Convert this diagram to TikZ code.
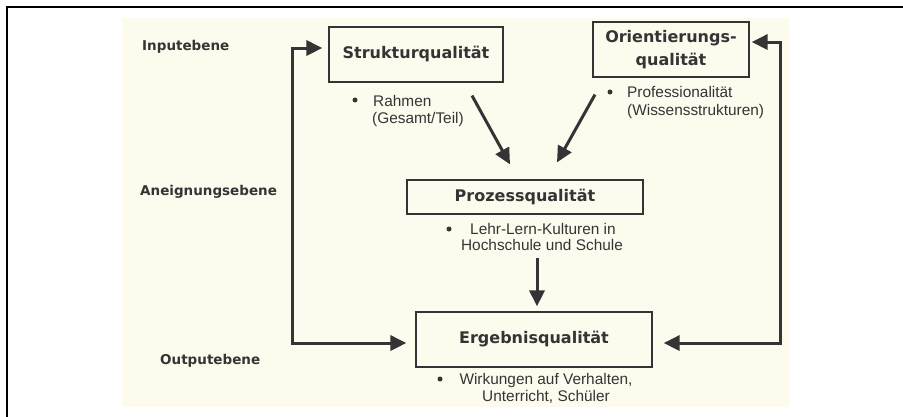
\documentclass[tikz,border=0pt]{standalone}
\usepackage{fontspec}
\setmainfont{Liberation Sans}
\newfontfamily\titlefont{DejaVu Sans}
\usetikzlibrary{arrows.meta,calc}
\definecolor{cream}{RGB}{253,251,238}
\definecolor{ink}{RGB}{52,52,52}
\begin{document}
\begin{tikzpicture}[x=1pt,y=-1pt,
  box/.style={draw=ink, line width=1.2pt, fill=cream, inner sep=0pt, align=center,
    font=\titlefont\bfseries\fontsize{16}{23}\selectfont, text=ink},
  lvl/.style={font=\titlefont\bfseries\fontsize{13.5}{16}\selectfont, text=ink, inner sep=0pt, anchor=base west},
  txt/.style={font=\fontsize{15.4}{18}\selectfont, text=ink, inner sep=0pt},
  dot/.style={circle, fill=ink, inner sep=0pt, minimum size=5pt},
  arr/.style={draw=ink, line width=3pt, -{Triangle[length=16pt,width=15pt]}},
  both/.style={draw=ink, line width=3pt, {Triangle[length=16pt,width=15pt]}-{Triangle[length=16pt,width=15pt]}}
]
\useasboundingbox (0,0) rectangle (903,416);
\fill[white] (0,0) rectangle (903,416);
\fill[cream] (122,18) rectangle (789,407);
\draw[black, line width=2.6pt] (7,425) -- (7,7) -- (912,7);

% level labels
\node[lvl] (inp) at (142,50) {Inputebene};
\node[lvl] (aneig) at (140,195) {Aneignungsebene};
\node[lvl] (outp) at (160,364) {Outputebene};

% boxes
\node[box, minimum width=174pt, minimum height=55pt, text height=12pt, text depth=4pt] (struk) at (416,54.5) {Strukturqualität};
\node[box, minimum width=156pt, minimum height=55pt] (orient) at (671,49.5) {Orientierungs-\\qualität};
\node[box, minimum width=236pt, minimum height=34pt, text height=12pt, text depth=4pt] (proz) at (525,197) {Prozessqualität};
\node[box, minimum width=236pt, minimum height=55pt, text height=12pt, text depth=4pt] (ergeb) at (534,339.5) {Ergebnisqualität};

% bullet texts
\node[dot] (d1) at (355,100) {};
\node[txt, anchor=base west] (t1a) at (373,106) {Rahmen};
\node[txt, anchor=base west] (t1b) at (372,123) {(Gesamt/Teil)};
\node[dot] (d2) at (610,92) {};
\node[txt, anchor=base west] (t2a) at (627,97) {Professionalität};
\node[txt, anchor=base west] (t2b) at (627,115) {(Wissensstrukturen)};
\node[dot] (d3) at (449,229) {};
\node[txt, anchor=base] (t3a) at (543,234) {Lehr-Lern-Kulturen in};
\node[txt, anchor=base] (t3b) at (542,250) {Hochschule und Schule};
\node[dot] (d4) at (440,379) {};
\node[txt, anchor=base] (t4a) at (546,384) {Wirkungen auf Verhalten,};
\node[txt, anchor=base] (t4b) at (546,401) {Unterricht, Schüler};

% feedback loops
\draw[both] ($(ergeb.west)+(-9,3.5)$) -- ($(ergeb.west)+(-123,3.5)$) |- ($(struk.west)+(-6,-6.5)$);
\draw[both] ($(ergeb.east)+(11,3.5)$) -- ($(ergeb.east)+(128,3.5)$) |- ($(orient.east)+(2,-7.5)$);

% diagonal and vertical arrows
\coordinate (s1) at ($(struk.south)+(56,13)$);
\coordinate (o1) at ($(orient.south)+(-76,17)$);
\coordinate (p1) at ($(proz.south)+(12,43)$);
\draw[arr] (s1) -- ($(proz.north)+(-15,-15)$);
\draw[arr] (o1) -- ($(proz.north)+(32,-17)$);
\draw[arr] (p1) -- ($(ergeb.north)+(3,-5)$);
\end{tikzpicture}
\end{document}
